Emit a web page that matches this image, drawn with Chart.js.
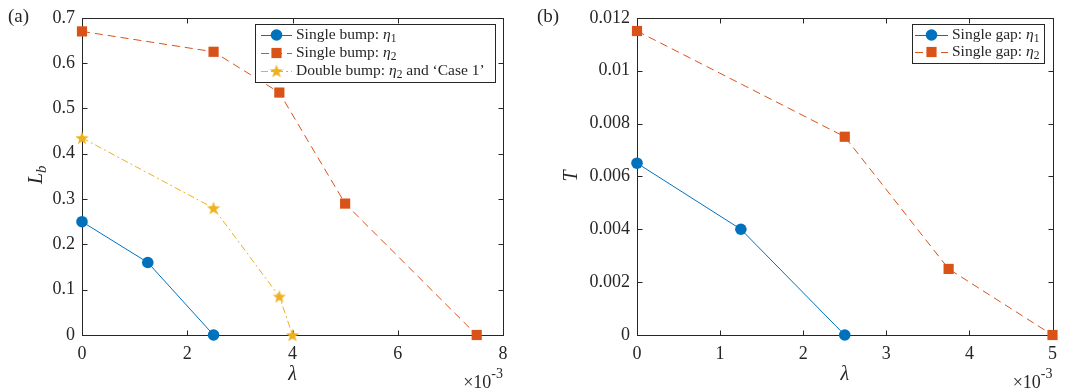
<!DOCTYPE html>
<html>
<head>
<meta charset="utf-8">
<script src="https://cdn.jsdelivr.net/npm/chart.js@4.4.1/dist/chart.umd.min.js"></script>
<style>
  html, body { margin: 0; padding: 0; background: #ffffff; }
  #wrap { position: relative; width: 1065px; height: 392px; }
  #wrapA { position: absolute; left: 0; top: 0; width: 535px; height: 392px; }
  #wrapB { position: absolute; left: 535px; top: 0; width: 530px; height: 392px; }
</style>
</head>
<body>
<div id="wrap">
  <div id="wrapA"><canvas id="chartA"></canvas></div>
  <div id="wrapB"><canvas id="chartB"></canvas></div>
</div>
<script>
(function() {
  "use strict";

  // ===== Data: panel (a), bump length L_b against lambda (x 1e-3) =====
  var bumpLambda1 = [0, 1.25, 2.5];
  var bumpEta1 = [0.25, 0.16, 0];
  var bumpLambda2 = [0, 2.5, 3.75, 5, 7.5];
  var bumpEta2 = [0.67, 0.625, 0.535, 0.29, 0];
  var doubleLambda = [0, 2.5, 3.75, 4];
  var doubleEta2 = [0.435, 0.28, 0.085, 0];

  // ===== Data: panel (b), gap thickness T against lambda (x 1e-3) =====
  var gapLambda1 = [0, 1.25, 2.5];
  var gapEta1 = [0.0065, 0.004, 0];
  var gapLambda2 = [0, 2.5, 3.75, 5];
  var gapEta2 = [0.0115, 0.0075, 0.0025, 0];

  var legendA = [
    { text: "Single bump: ", sub: "1" },
    { text: "Single bump: ", sub: "2" },
    { text: "Double bump: ", sub: "2", tail: " and \u2018Case 1\u2019" }
  ];
  var legendB = [
    { text: "Single gap: ", sub: "1" },
    { text: "Single gap: ", sub: "2" }
  ];

  // ===== Style =====
  var BLUE = "#0072BD";
  var ORANGE = "#D95319";
  var YELLOW = "#EDB120";
  var AXIS = "#262626";
  var SERIF = "'Liberation Serif', 'DejaVu Serif', serif";

  function pairs(xs, ys) {
    return xs.map(function(x, i) { return { x: x, y: ys[i] }; });
  }

  function fmt(v) {
    return String(Number(v.toFixed(6)));
  }

  // five-pointed filled star used as a point marker
  function makeStar(size, color) {
    var c = document.createElement("canvas");
    c.width = size; c.height = size;
    var g = c.getContext("2d");
    var cx = size / 2, cy = size / 2 + 0.6;
    var ro = size / 2, ri = ro * 0.42;
    g.beginPath();
    for (var k = 0; k < 10; k++) {
      var r = k % 2 === 0 ? ro : ri;
      var a = -Math.PI / 2 + k * Math.PI / 5;
      var px = cx + r * Math.cos(a), py = cy + r * Math.sin(a);
      if (k === 0) g.moveTo(px, py); else g.lineTo(px, py);
    }
    g.closePath();
    g.fillStyle = color;
    g.fill();
    return c;
  }
  var starImg = makeStar(14, YELLOW);

  function series(label, xs, ys, color, style, radius, dash) {
    return {
      label: label,
      data: pairs(xs, ys),
      showLine: true,
      borderColor: color,
      backgroundColor: color,
      borderWidth: 1,
      borderDash: dash || [],
      pointStyle: style,
      pointRadius: radius,
      pointBorderWidth: 0,
      pointBackgroundColor: color,
      clip: false
    };
  }

  // ===== Frame: box with inward ticks on all four sides =====
  function drawFrame(chart) {
    var ctx = chart.ctx, a = chart.chartArea;
    var xs = chart.scales.x, ys = chart.scales.y;
    var L = Math.round(a.left) + 0.5, R = Math.round(a.right) + 0.5;
    var T = Math.round(a.top) + 0.5, B = Math.round(a.bottom) + 0.5;
    ctx.save();
    ctx.strokeStyle = AXIS;
    ctx.lineWidth = 1;
    ctx.strokeRect(L, T, R - L, B - T);
    ctx.beginPath();
    xs.ticks.forEach(function(t) {
      var px = Math.round(xs.getPixelForValue(t.value)) + 0.5;
      ctx.moveTo(px, B); ctx.lineTo(px, B - 5);
      ctx.moveTo(px, T); ctx.lineTo(px, T + 5);
    });
    ys.ticks.forEach(function(t) {
      var py = Math.round(ys.getPixelForValue(t.value)) + 0.5;
      ctx.moveTo(L, py); ctx.lineTo(L + 5, py);
      ctx.moveTo(R, py); ctx.lineTo(R - 5, py);
    });
    ctx.stroke();
    ctx.restore();
  }

  // draws "×10^-3" with its right edge at x
  function drawExponent(ctx, x, y) {
    ctx.save();
    ctx.fillStyle = AXIS;
    ctx.textBaseline = "alphabetic";
    ctx.font = "14px " + SERIF;
    var supW = ctx.measureText("-3").width;
    ctx.textAlign = "right";
    ctx.fillText("-3", x, y - 10);
    ctx.font = "18px " + SERIF;
    ctx.fillText("\u00d710", x - supW, y);
    ctx.restore();
  }

  function drawLegend(chart, box, rows, lineX0, lineX1, textX, rowY) {
    var ctx = chart.ctx;
    ctx.save();
    ctx.fillStyle = "#ffffff";
    ctx.fillRect(box.x, box.y, box.w, box.h);
    ctx.strokeStyle = AXIS;
    ctx.lineWidth = 1;
    ctx.strokeRect(box.x + 0.5, box.y + 0.5, box.w, box.h);
    rows.forEach(function(row, i) {
      var ds = chart.data.datasets[i];
      var y = rowY[i];
      var mx = (lineX0 + lineX1) / 2;
      ctx.beginPath();
      ctx.setLineDash(ds.borderDash);
      ctx.strokeStyle = ds.borderColor;
      ctx.lineWidth = 1;
      ctx.moveTo(lineX0, y + 0.5); ctx.lineTo(lineX1, y + 0.5);
      ctx.stroke();
      ctx.setLineDash([]);
      ctx.fillStyle = ds.borderColor;
      if (ds.pointStyle === "circle") {
        ctx.beginPath(); ctx.arc(mx, y, ds.pointRadius, 0, Math.PI * 2); ctx.fill();
      } else if (ds.pointStyle === "rect") {
        var h = ds.pointRadius * Math.SQRT1_2;
        ctx.fillRect(mx - h, y - h, 2 * h, 2 * h);
      } else {
        ctx.drawImage(ds.pointStyle, mx - 7, y - 7);
      }
      // label text: plain words, italic eta, subscript index
      ctx.fillStyle = AXIS;
      ctx.textBaseline = "middle";
      ctx.textAlign = "left";
      var x = textX;
      ctx.font = "15.5px " + SERIF;
      ctx.fillText(row.text, x, y);
      x += ctx.measureText(row.text).width;
      ctx.font = "italic 15.5px " + SERIF;
      ctx.fillText("\u03b7", x, y);
      x += ctx.measureText("\u03b7").width;
      ctx.font = "11.5px " + SERIF;
      ctx.fillText(row.sub, x, y + 4);
      x += ctx.measureText(row.sub).width;
      if (row.tail) {
        ctx.font = "15.5px " + SERIF;
        ctx.fillText(row.tail, x, y);
      }
    });
    ctx.restore();
  }

  function baseOptions(yMin, yMax, yStep, xMax, xStep, leftW, rightPad) {
    return {
      responsive: false,
      animation: false,
      events: [],
      layout: { autoPadding: false, padding: { left: 0, right: rightPad, top: 15, bottom: 0 } },
      plugins: { legend: { display: false }, tooltip: { enabled: false } },
      scales: {
        x: {
          type: "linear", min: 0, max: xMax,
          grid: { display: false, drawTicks: false },
          border: { display: false },
          afterFit: function(s) { s.height = 57; },
          ticks: {
            stepSize: xStep, padding: 8, color: AXIS, maxRotation: 0,
            font: { family: SERIF, size: 18 },
            callback: function(v) { return fmt(v); }
          }
        },
        y: {
          type: "linear", min: yMin, max: yMax,
          grid: { display: false, drawTicks: false },
          border: { display: false },
          afterFit: function(s) { s.width = leftW; },
          ticks: {
            stepSize: yStep, padding: 7, color: AXIS,
            font: { family: SERIF, size: 18 },
            callback: function(v) { return fmt(v); }
          }
        }
      }
    };
  }

  // ===== Panel (a) =====
  var canvasA = document.getElementById("chartA");
  canvasA.width = 535; canvasA.height = 392;
  new Chart(canvasA, {
    type: "scatter",
    data: {
      datasets: [
        series("Single bump: eta1", bumpLambda1, bumpEta1, BLUE, "circle", 5.8),
        series("Single bump: eta2", bumpLambda2, bumpEta2, ORANGE, "rect", 7.2, [8, 5]),
        series("Double bump", doubleLambda, doubleEta2, YELLOW, starImg, 7, [7, 3, 2, 3])
      ]
    },
    options: baseOptions(0, 0.7, 0.1, 8, 2, 82, 32),
    plugins: [{
      id: "panelA",
      beforeDatasetsDraw: drawFrame,
      afterDraw: function(chart) {
        var ctx = chart.ctx, a = chart.chartArea;
        ctx.save();
        ctx.fillStyle = AXIS;
        ctx.textBaseline = "middle";
        ctx.font = "19px " + SERIF;
        ctx.textAlign = "left";
        ctx.fillText("(a)", 8, 17);
        ctx.font = "italic 20px " + SERIF;
        ctx.textAlign = "center";
        ctx.fillText("\u03bb", (a.left + a.right) / 2, 375);
        // rotated y title: L with subscript b
        ctx.translate(37, 175);
        ctx.rotate(-Math.PI / 2);
        ctx.textAlign = "left";
        ctx.font = "italic 20px " + SERIF;
        var lw = ctx.measureText("L").width;
        ctx.fillText("L", -9, 0);
        ctx.font = "italic 15px " + SERIF;
        ctx.fillText("b", -9 + lw, 5);
        ctx.restore();
        drawExponent(ctx, a.right, 388);
        drawLegend(chart, { x: 255, y: 24, w: 240, h: 58 }, legendA, 261, 292, 296, [35, 53, 71]);
      }
    }]
  });

  // ===== Panel (b) =====
  var canvasB = document.getElementById("chartB");
  canvasB.width = 530; canvasB.height = 392;
  new Chart(canvasB, {
    type: "scatter",
    data: {
      datasets: [
        series("Single gap: eta1", gapLambda1, gapEta1, BLUE, "circle", 5.8),
        series("Single gap: eta2", gapLambda2, gapEta2, ORANGE, "rect", 7.2, [8, 5])
      ]
    },
    options: baseOptions(0, 0.012, 0.002, 5, 1, 102, 12),
    plugins: [{
      id: "panelB",
      beforeDatasetsDraw: drawFrame,
      afterDraw: function(chart) {
        var ctx = chart.ctx, a = chart.chartArea;
        ctx.save();
        ctx.fillStyle = AXIS;
        ctx.textBaseline = "middle";
        ctx.font = "19px " + SERIF;
        ctx.textAlign = "left";
        ctx.fillText("(b)", 2, 17);
        ctx.font = "italic 20px " + SERIF;
        ctx.textAlign = "center";
        ctx.fillText("\u03bb", (a.left + a.right) / 2, 375);
        ctx.translate(37, 176);
        ctx.rotate(-Math.PI / 2);
        ctx.fillText("T", 0, 0);
        ctx.restore();
        drawExponent(ctx, a.right, 388);
        drawLegend(chart, { x: 377, y: 24, w: 132, h: 39 }, legendB, 380, 413, 417, [35, 52]);
      }
    }]
  });
})();
</script>
</body>
</html>
